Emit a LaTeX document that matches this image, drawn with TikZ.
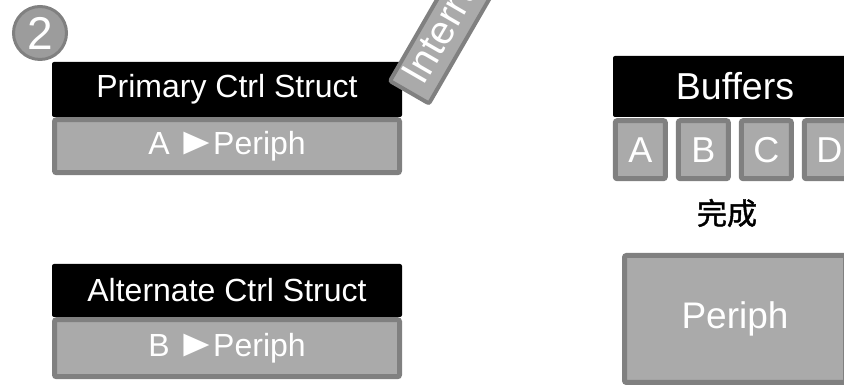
\documentclass[tikz,border=0pt]{standalone}
\usepackage{fontspec}
\setmainfont{Liberation Sans}
\newfontfamily\cjk[FakeBold=1.5]{Noto Sans CJK SC}
\usetikzlibrary{positioning}
\definecolor{boxgray}{HTML}{AAAAAA}
\definecolor{edgegray}{HTML}{808080}
\definecolor{badgegray}{HTML}{9C9C9C}
\newcommand{\toarrow}{\kern-3pt\scalebox{1.35}[1.2]{►}\kern-5pt}

\begin{document}
\begin{tikzpicture}[x=1pt,y=1pt,
    title/.style={
        fill=black, text=white, rounded corners=2pt, inner sep=0pt,
        font=\fontsize{32}{32}\selectfont,
        minimum width=350pt, minimum height=55pt
      },
    slot/.style={
        fill=boxgray, draw=edgegray, line width=5pt, text=white,
        rounded corners=2pt, inner sep=0pt,
        font=\fontsize{32}{32}\selectfont
      },
    cell/.style={slot, minimum width=50pt, minimum height=58pt,
        font=\fontsize{36}{36}\selectfont}
  ]
  \useasboundingbox (0,0) rectangle (844,387);
  \clip (0,0) rectangle (844,387);

  % numbered badge
  \node[circle, fill=badgegray, draw=edgegray, line width=3pt, text=white,
    minimum size=53pt, inner sep=0pt, font=\fontsize{46}{46}\selectfont]
    (badge) at (40,354) {2};

  % control structures
  \node[title] (pri) at (227,297.5) {Primary Ctrl Struct};
  \node[slot, minimum width=345pt, minimum height=53pt, below=0pt of pri]
    (priDest) {A \toarrow Periph};
  \node[slot, line width=4pt, rotate=60, anchor=west, minimum height=45pt,
    inner xsep=12pt, font=\fontsize{40}{40}\selectfont]
    (irq) at (408.5,293) {Interrupt};

  \node[title, minimum height=53pt] (alt) at (227,96.5) {Alternate Ctrl Struct};
  \node[slot, minimum width=345pt, minimum height=57pt, below=0pt of alt]
    (altDest) {B \toarrow Periph};

  % buffers
  \node[title, minimum width=244pt, minimum height=61pt,
    font=\fontsize{37.5}{37.5}\selectfont] (buf) at (735,300.5) {Buffers};
  \node[cell, below right=1pt and 0pt of buf.south west] (bufA) {A};
  \foreach \prev/\cur in {A/B,B/C,C/D}
    \node[cell, right=8pt of buf\prev] (buf\cur) {\cur};

  \node[font=\cjk\fontsize{30}{30}\selectfont] (done) at (727,174) {完成};

  \node[slot, minimum width=221pt, minimum height=127pt,
    font=\fontsize{37}{37}\selectfont] (periph) at (735,68) {Periph};
\end{tikzpicture}
\end{document}
